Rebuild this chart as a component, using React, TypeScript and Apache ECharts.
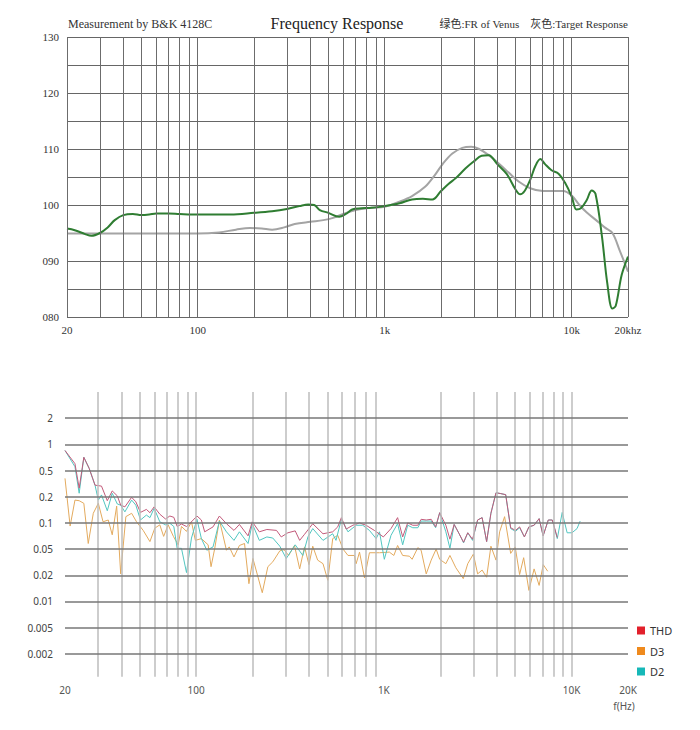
import React, { useEffect, useRef } from 'react';
import * as echarts from 'echarts';

// ---- Top chart: frequency response (dB) ----
const frFreq = [20, 22, 25, 27, 30, 33, 36, 40, 45, 50, 55, 60, 70, 80, 100, 150, 200, 250, 300, 350, 390, 420, 450, 500, 570, 620, 670, 750, 850, 1000, 1200, 1400, 1600, 1800, 2000, 2200, 2400, 2700, 3000, 3300, 3600, 4000, 4500, 5000, 5300, 5600, 6000, 6400, 6800, 7200, 7800, 8500, 9200, 10000, 10600, 11200, 12000, 12800, 13400, 14500, 15500, 16500, 17200, 18500, 20000];
const frDb = [95.8, 95.5, 94.8, 94.5, 95.0, 96.0, 97.3, 98.2, 98.4, 98.2, 98.3, 98.5, 98.5, 98.4, 98.3, 98.3, 98.6, 98.9, 99.3, 99.8, 100.1, 100.0, 99.1, 98.6, 97.9, 98.4, 99.2, 99.4, 99.5, 99.8, 100.3, 101.0, 101.1, 101.0, 102.5, 103.8, 104.8, 106.5, 107.8, 108.8, 108.9, 107.3, 105.5, 102.8, 101.9, 102.5, 104.5, 107.0, 108.2, 107.3, 106.2, 105.6, 104.0, 101.5, 99.2, 99.4, 100.8, 102.6, 102.0, 94.5, 86.0, 81.5, 82.0, 87.5, 90.8];

const targetFreq = [20, 50, 100, 130, 160, 190, 220, 250, 290, 330, 400, 470, 530, 600, 700, 850, 1000, 1200, 1400, 1650, 1850, 2050, 2300, 2600, 2900, 3200, 3600, 4100, 4600, 5200, 6000, 7000, 8000, 9000, 10000, 11000, 12000, 13500, 15000, 16500, 18000, 20000];
const targetDb = [94.9, 94.9, 94.9, 95.1, 95.6, 95.9, 95.8, 95.6, 96.0, 96.6, 97.0, 97.3, 97.7, 98.4, 99.1, 99.5, 99.7, 100.6, 101.6, 103.3, 105.3, 107.4, 109.2, 110.2, 110.4, 110.0, 108.9, 107.3, 105.8, 104.2, 103.0, 102.5, 102.5, 102.5, 101.7, 100.0, 98.7, 97.3, 96.0, 95.0, 92.0, 88.1];

const topGridFreqs = [20, 30, 40, 50, 60, 70, 80, 90, 100, 200, 300, 400, 500, 600, 700, 800, 900, 1000, 2000, 3000, 4000, 5000, 6000, 7000, 8000, 9000, 10000, 20000];
const topXTicks = [20, 100, 1000, 10000, 20000];
const topXLabels = ['20', '100', '1k', '10k', '20khz'];

// ---- Bottom chart: distortion (%) ----
const thdFreq = [20, 22.6, 23.8, 25.2, 26.9, 28.9, 31.3, 33.6, 35.7, 38, 39.6, 41.7, 45.3, 47.7, 50.5, 54.3, 56.7, 59.7, 64, 68.6, 72.4, 76, 79.2, 83.5, 88.8, 94.4, 101, 106.6, 111, 123, 133, 145, 159, 170, 189, 199, 217, 238, 268, 284, 308, 337, 356, 378, 418, 474, 534, 568, 594, 630, 684, 742, 804, 890, 994, 1092, 1184, 1260, 1340, 1426, 1518, 1580, 1682, 1788, 1888, 1984, 2140, 2250, 2370, 2520, 2660, 2800, 2970, 3160, 3340, 3530, 3720, 3960, 4200, 4460, 4740, 5030, 5290, 5610, 5930, 6320, 6720, 7060, 7520, 7900, 8400];
const thdVal = [0.85, 0.6, 0.27, 0.71, 0.53, 0.30, 0.29, 0.18, 0.245, 0.206, 0.16, 0.153, 0.197, 0.175, 0.132, 0.143, 0.131, 0.153, 0.126, 0.111, 0.12, 0.116, 0.091, 0.097, 0.091, 0.103, 0.12, 0.108, 0.079, 0.09, 0.12, 0.098, 0.082, 0.096, 0.071, 0.103, 0.079, 0.084, 0.082, 0.069, 0.077, 0.081, 0.063, 0.074, 0.098, 0.075, 0.079, 0.09, 0.115, 0.085, 0.094, 0.1, 0.094, 0.082, 0.069, 0.086, 0.115, 0.069, 0.1, 0.094, 0.094, 0.11, 0.108, 0.11, 0.09, 0.131, 0.094, 0.065, 0.096, 0.075, 0.06, 0.077, 0.065, 0.108, 0.115, 0.061, 0.129, 0.23, 0.223, 0.215, 0.088, 0.082, 0.09, 0.069, 0.09, 0.094, 0.112, 0.071, 0.108, 0.108, 0.068];

const d2Freq = [20, 22.6, 23.8, 25.2, 26.9, 28.9, 30.1, 31.3, 33.6, 35.7, 38, 39.6, 41.7, 45.3, 47.7, 50.5, 54.3, 56.7, 59.7, 64, 68.6, 72.4, 76, 79.2, 83.5, 88.8, 94.4, 101, 106.6, 114, 123, 133, 145, 159, 170, 189, 199, 217, 238, 256, 279, 302, 337, 370, 394, 418, 474, 534, 556, 594, 644, 712, 772, 838, 910, 948, 1006, 1092, 1184, 1260, 1340, 1426, 1518, 1580, 1682, 1788, 1888, 1984, 2140, 2250, 2370, 2520, 2660, 2800, 2970, 3160, 3340, 3530, 3720, 3960, 4200, 4460, 4740, 5030, 5290, 5610, 5930, 6320, 6720, 7060, 7520, 7900, 8400, 8920, 9480, 10060, 10700, 11120];
const d2Val = [0.85, 0.553, 0.226, 0.71, 0.53, 0.30, 0.183, 0.213, 0.138, 0.226, 0.165, 0.16, 0.134, 0.183, 0.16, 0.108, 0.123, 0.115, 0.147, 0.103, 0.095, 0.099, 0.091, 0.051, 0.051, 0.022, 0.067, 0.11, 0.066, 0.048, 0.053, 0.105, 0.079, 0.063, 0.079, 0.058, 0.098, 0.063, 0.069, 0.067, 0.054, 0.036, 0.056, 0.04, 0.069, 0.086, 0.063, 0.075, 0.063, 0.11, 0.079, 0.094, 0.094, 0.082, 0.066, 0.079, 0.035, 0.072, 0.098, 0.056, 0.094, 0.088, 0.088, 0.105, 0.105, 0.105, 0.088, 0.131, 0.079, 0.051, 0.096, 0.075, 0.059, 0.077, 0.063, 0.108, 0.115, 0.061, 0.129, 0.23, 0.223, 0.215, 0.086, 0.08, 0.088, 0.069, 0.09, 0.094, 0.112, 0.071, 0.108, 0.108, 0.066, 0.132, 0.077, 0.077, 0.086, 0.105];

const d3Freq = [20, 21.3, 22.6, 23.8, 25.2, 26.6, 28.3, 30.1, 31.9, 34, 35.7, 37.7, 39.6, 42.2, 45.3, 48.1, 52.2, 56.7, 60.2, 64, 67.1, 70.9, 75.6, 80.2, 83.5, 88.8, 94.4, 99, 106.6, 115.8, 120, 125.6, 133, 145, 150, 159, 170, 181, 191, 200.6, 225, 241, 256, 279, 294, 311, 334, 356, 378, 399, 418, 444, 474, 503, 534, 568, 606, 644, 697, 712, 742, 789, 838, 948, 1070, 1131, 1184, 1260, 1368, 1415, 1518, 1580, 1682, 1788, 1900, 1984, 2140, 2250, 2420, 2650, 2800, 3000, 3160, 3340, 3530, 3720, 3960, 4140, 4400, 4740, 5010, 5290, 5560, 5930, 6320, 6720, 7070, 7470];
const d3Val = [0.38, 0.092, 0.183, 0.18, 0.168, 0.058, 0.129, 0.168, 0.103, 0.108, 0.073, 0.156, 0.021, 0.118, 0.129, 0.103, 0.082, 0.061, 0.087, 0.095, 0.07, 0.095, 0.07, 0.056, 0.091, 0.08, 0.103, 0.063, 0.066, 0.056, 0.027, 0.051, 0.108, 0.048, 0.053, 0.038, 0.055, 0.058, 0.016, 0.036, 0.0126, 0.027, 0.032, 0.047, 0.049, 0.04, 0.055, 0.025, 0.053, 0.029, 0.054, 0.034, 0.03, 0.0175, 0.066, 0.072, 0.05, 0.04, 0.04, 0.03, 0.045, 0.0186, 0.044, 0.044, 0.045, 0.04, 0.055, 0.04, 0.039, 0.035, 0.052, 0.048, 0.021, 0.034, 0.05, 0.035, 0.03, 0.04, 0.026, 0.0183, 0.03, 0.042, 0.021, 0.024, 0.019, 0.054, 0.034, 0.079, 0.118, 0.043, 0.053, 0.0205, 0.037, 0.0134, 0.025, 0.0153, 0.029, 0.023];

const bottomGridFreqs = [30, 40, 50, 60, 70, 80, 90, 100, 200, 300, 400, 500, 600, 700, 800, 900, 2000, 3000, 4000, 5000, 6000, 7000, 8000, 9000, 10000];
const bottomXTicks = [20, 100, 1000, 10000, 20000];
const bottomXLabels = ['20', '100', '1K', '10K', '20K'];
const distLevels = [0.002, 0.005, 0.01, 0.02, 0.05, 0.1, 0.2, 0.5, 1, 2];
const distLabels = ['0.002', '0.005', '0.01', '0.02', '0.05', '0.1', '0.2', '0.5', '1', '2'];

// map a distortion value onto the chart's evenly spaced level slots
function toSlot(v: number): number {
  let i = 0;
  while (i < distLevels.length - 2 && v > distLevels[i + 1]) i++;
  return i + Math.log(v / distLevels[i]) / Math.log(distLevels[i + 1] / distLevels[i]);
}

const pairs = (xs: number[], ys: number[]) => xs.map((x, i) => [x, ys[i]]);
const slotPairs = (xs: number[], ys: number[]) => xs.map((x, i) => [x, toSlot(ys[i])]);

const tickLabel = (ticks: number[], labels: string[]) => (v: number) => {
  const i = ticks.findIndex((t) => Math.abs(Math.log10(v / t)) < 0.01);
  return i >= 0 ? labels[i] : '';
};

const SERIF = '"Liberation Serif", "DejaVu Serif", "Noto Sans CJK SC", serif';
const SANS = '"Noto Sans", "Open Sans", sans-serif';

export default function App() {
  const ref = useRef<HTMLDivElement>(null);
  useEffect(() => {
    document.body.style.margin = '0';
    const chart = echarts.init(ref.current!, undefined, { renderer: 'svg' });
    chart.setOption({
      animation: false,
      backgroundColor: '#ffffff',
      grid: [
        { left: 67, right: 72, top: 37, height: 280 },
        { left: 65, right: 72, top: 392, height: 288 },
      ],
      xAxis: [
        {
          type: 'log', logBase: 10, min: 20, max: 20000, gridIndex: 0,
          axisLine: { show: false }, axisTick: { show: false }, splitLine: { show: false },
          axisLabel: {
            customValues: topXTicks, formatter: tickLabel(topXTicks, topXLabels),
            fontFamily: SERIF, fontSize: 11, color: '#333', margin: 7,
          },
        },
        {
          type: 'log', logBase: 10, min: 20, max: 20000, gridIndex: 1,
          axisLine: { show: false }, axisTick: { show: false }, splitLine: { show: false },
          axisLabel: {
            customValues: bottomXTicks, formatter: tickLabel(bottomXTicks, bottomXLabels),
            fontFamily: SANS, fontSize: 10, color: '#555', margin: 5,
          },
        },
      ],
      yAxis: [
        {
          type: 'value', min: 80, max: 130, interval: 5, gridIndex: 0,
          axisLine: { show: false }, axisTick: { show: false },
          splitLine: { show: true, lineStyle: { color: '#666666', width: 1 } },
          axisLabel: {
            formatter: (v: number) => (v % 10 === 0 ? String(v).padStart(3, '0') : ''),
            fontFamily: SERIF, fontSize: 11, color: '#333', margin: 8,
          },
        },
        {
          type: 'value', min: -1, max: 10, interval: 1, gridIndex: 1,
          axisLine: { show: false }, axisTick: { show: false }, splitLine: { show: false },
          axisLabel: {
            formatter: (v: number) => {
              const i = Math.round(v);
              return i >= 0 && i < distLabels.length ? distLabels[i] : '';
            },
            fontFamily: SANS, fontSize: 10, color: '#444', margin: 12,
          },
        },
      ],
      legend: {
        data: ['THD', 'D3', 'D2'],
        orient: 'vertical', left: 632, top: 620,
        icon: 'rect', itemWidth: 8, itemHeight: 8, itemGap: 9.5,
        textStyle: { fontFamily: SANS, fontSize: 11, color: '#333' },
      },
      graphic: [
        { type: 'text', x: 68, y: 24, style: { text: 'Measurement by B&K 4128C', font: `12px ${SERIF}`, fill: '#333', align: 'left', verticalAlign: 'middle' } },
        { type: 'text', x: 337, y: 23, style: { text: 'Frequency Response', font: `16px ${SERIF}`, fill: '#222', align: 'center', verticalAlign: 'middle' } },
        { type: 'text', x: 628, y: 24, style: { text: '绿色:FR of Venus    灰色:Target Response', font: `11px ${SERIF}`, fill: '#333', align: 'right', verticalAlign: 'middle' } },
        { type: 'text', x: 624, y: 706, style: { text: 'f(Hz)', font: `10px ${SANS}`, fill: '#555', align: 'center', verticalAlign: 'middle' } },
      ],
      series: [
        {
          name: 'topGrid', type: 'line', xAxisIndex: 0, yAxisIndex: 0, data: [], z: 1, silent: true,
          markLine: {
            silent: true, symbol: ['none', 'none'], label: { show: false },
            lineStyle: { color: '#6c6c6c', width: 1, type: 'solid' },
            data: topGridFreqs.map((f) => ({ xAxis: f })),
          },
        },
        {
          name: 'Target Response', type: 'line', xAxisIndex: 0, yAxisIndex: 0, z: 3,
          data: pairs(targetFreq, targetDb), showSymbol: false, smooth: 0.35,
          lineStyle: { color: '#a4a4a4', width: 2 }, itemStyle: { color: '#a4a4a4' },
        },
        {
          name: 'FR of Venus', type: 'line', xAxisIndex: 0, yAxisIndex: 0, z: 4,
          data: pairs(frFreq, frDb), showSymbol: false, smooth: 0.35,
          lineStyle: { color: '#2f7d32', width: 2 }, itemStyle: { color: '#2f7d32' },
        },
        {
          name: 'bottomGridV', type: 'line', xAxisIndex: 1, yAxisIndex: 1, data: [], z: 1, silent: true,
          markLine: {
            silent: true, symbol: ['none', 'none'], label: { show: false },
            lineStyle: { color: '#bcbcbc', width: 1.5, type: 'solid' },
            data: bottomGridFreqs.map((f) => [{ coord: [f, -0.88] }, { coord: [f, 10] }]),
          },
        },
        {
          name: 'bottomGridH', type: 'line', xAxisIndex: 1, yAxisIndex: 1, data: [], z: 1, silent: true,
          markLine: {
            silent: true, symbol: ['none', 'none'], label: { show: false },
            lineStyle: { color: '#777777', width: 1.5, type: 'solid' },
            data: distLevels.map((_, i) => ({ yAxis: i })),
          },
        },
        {
          name: 'D3', type: 'line', xAxisIndex: 1, yAxisIndex: 1, z: 3,
          data: slotPairs(d3Freq, d3Val), showSymbol: false,
          lineStyle: { color: '#e3aa5e', width: 1 }, itemStyle: { color: '#ef8a1d' },
        },
        {
          name: 'D2', type: 'line', xAxisIndex: 1, yAxisIndex: 1, z: 3,
          data: slotPairs(d2Freq, d2Val), showSymbol: false,
          lineStyle: { color: '#52c6c1', width: 1 }, itemStyle: { color: '#16b8b8' },
        },
        {
          name: 'THD', type: 'line', xAxisIndex: 1, yAxisIndex: 1, z: 4,
          data: slotPairs(thdFreq, thdVal), showSymbol: false,
          lineStyle: { color: '#c25a7a', width: 1 }, itemStyle: { color: '#e2202b' },
        },
      ],
    });
    return () => chart.dispose();
  }, []);
  return <div ref={ref} style={{ width: 700, height: 730 }} />;
}
